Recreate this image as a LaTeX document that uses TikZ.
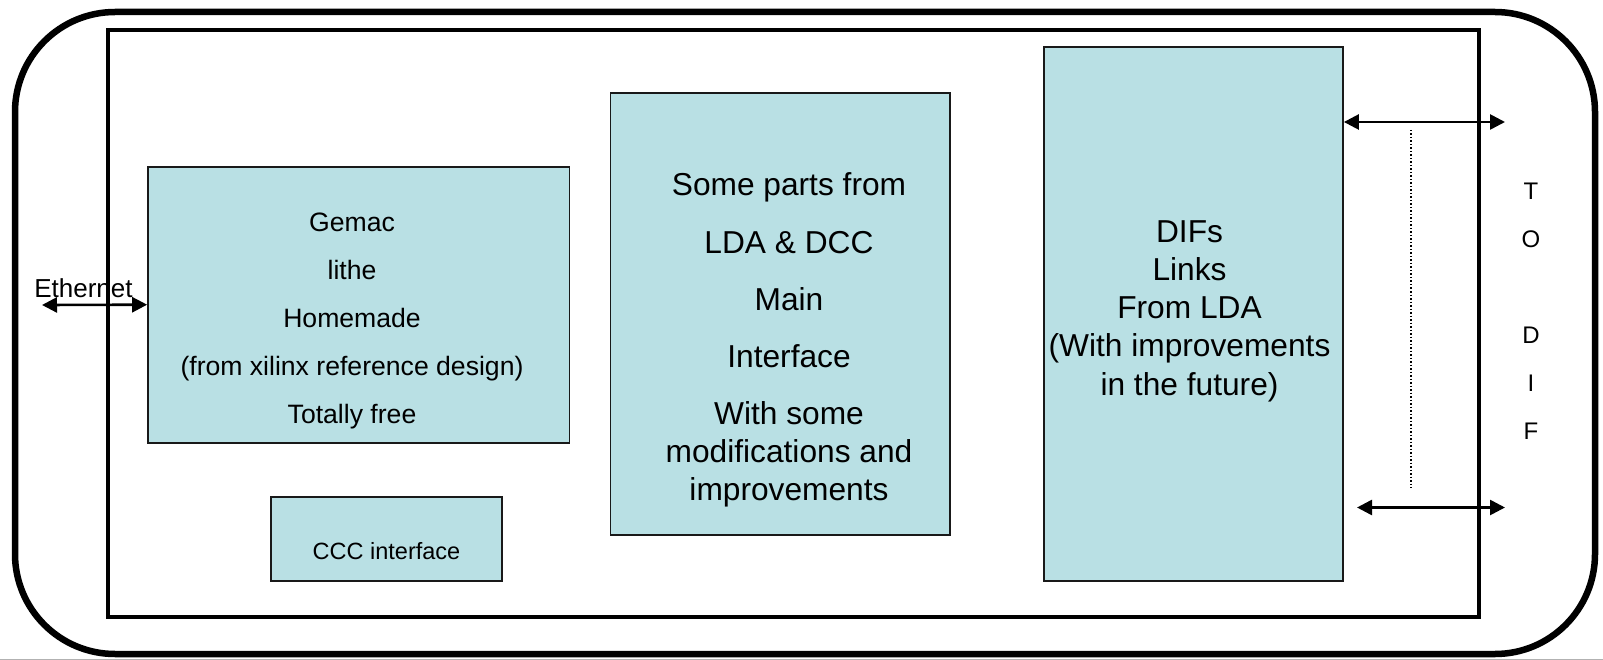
\documentclass[tikz,border=0pt]{standalone}
\usepackage{fontspec}
\setmainfont{Liberation Sans}
\usetikzlibrary{arrows.meta}
\definecolor{boxblue}{RGB}{185,224,228}
\begin{document}
\begin{tikzpicture}[x=1pt,y=-1pt,
  blk/.style={draw=black!90, line width=1.8pt, fill=boxblue, inner sep=0pt},
  txt/.style={align=center, inner sep=0pt},
  lnk/.style={line width=2.6pt, {Triangle[length=15pt,width=15pt]}-{Triangle[length=15pt,width=15pt]}}]
\useasboundingbox (0,0) rectangle (1603,660);
\draw[gray!60, line width=1pt] (0,659) -- (1603,659);
\draw[line width=6.5pt, rounded corners=100pt] (15,12) rectangle (1595,654);
\draw[line width=4pt] (108,30) rectangle (1479,617);
% blocks
\node[blk, minimum width=421.5pt, minimum height=276pt] (gemac) at (358.8,304.7){};
\node[blk, minimum width=231pt, minimum height=84pt] (ccc) at (386.5,539){};
\node[blk, minimum width=339.6pt, minimum height=441.8pt] (lda) at (780.2,313.9){};
\node[blk, minimum width=299pt, minimum height=533.8pt] (difs) at (1193.5,313.9){};
% texts
\node[txt, font={\fontsize{26.6}{48}\selectfont}] (gemactxt) at (352,321){Gemac\\lithe\\Homemade\\(from xilinx reference design)\\Totally free};
\node[txt, font={\fontsize{23.5}{28}\selectfont}] (ccctxt) at (386.5,551){CCC interface};
\node[txt, font={\fontsize{31.7}{37.8}\selectfont}] (ldatxt) at (789,340){Some parts from\\[19.5pt]LDA \& DCC\\[19.5pt]Main\\[19.5pt]Interface\\[19.5pt]With some\\modifications and\\improvements};
\node[txt, font={\fontsize{31.7}{38.3}\selectfont}] (difstxt) at (1189.5,311){DIFs\\Links\\From LDA\\(With improvements\\in the future)};
\node[txt, font={\fontsize{24}{48}\selectfont}] (todif) at (1531,311){T\\O\\[48pt]D\\I\\F};
% links
\coordinate (ethend) at (42,305);
\draw[lnk](ethend) -- (gemac.west);
\node[txt, font={\fontsize{26}{30}\selectfont}] (eth) at (83.5,288){Ethernet};
\coordinate (toptip) at (1505,122);
\draw[lnk](difs.east |- toptip) -- (toptip);
\coordinate (botl) at (1357,507.5);
\coordinate (botr) at (1505,507.5);
\draw[lnk](botl) -- (botr);
\coordinate (dtop) at (1411,130);
\coordinate (dbot) at (1411,488);
\draw[dotted, line width=1.5pt](dtop) -- (dbot);
\end{tikzpicture}
\end{document}
